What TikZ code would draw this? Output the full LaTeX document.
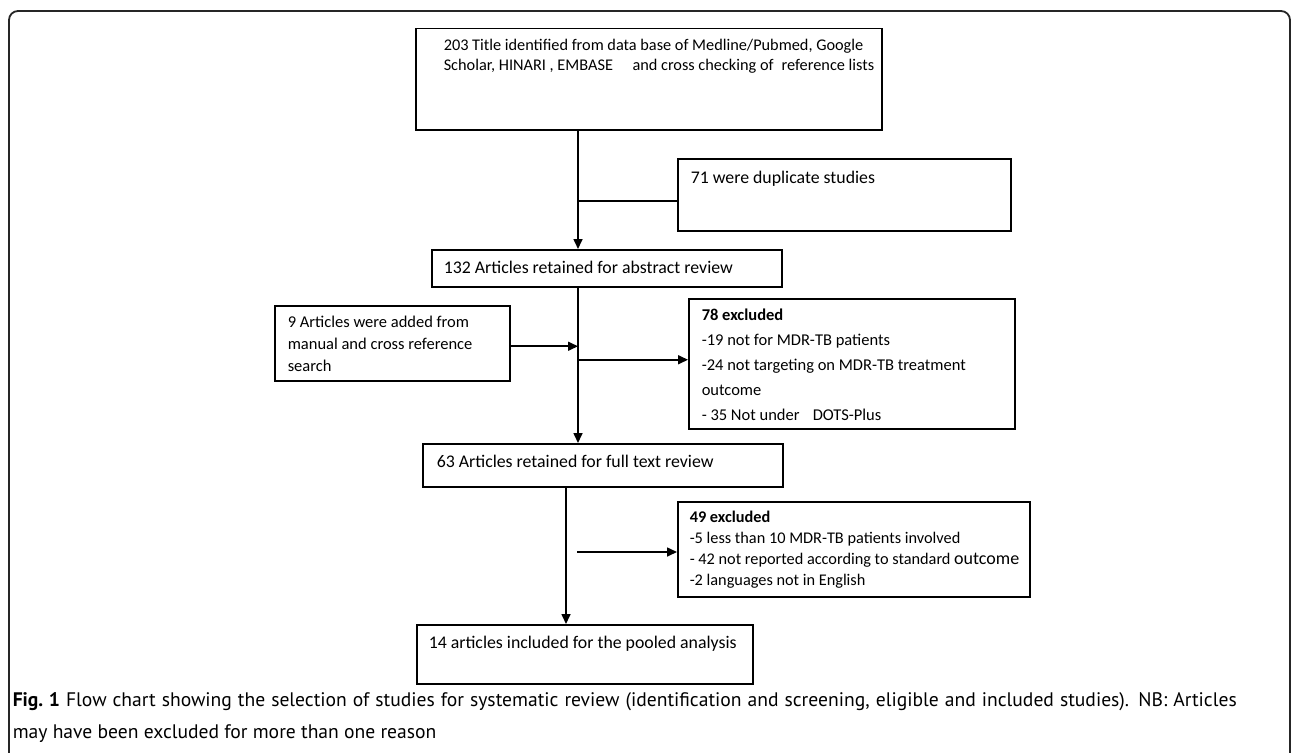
\documentclass[tikz,border=0pt]{standalone}
\usepackage{fontspec}
\setmainfont{Carlito}
\newfontfamily\capfont{PT Sans}
\usepackage{tikz}
\usetikzlibrary{positioning,arrows.meta}

\begin{document}
\begin{tikzpicture}[
  >={Triangle[length=10pt,width=9pt]},
  x=1pt,y=-1pt,
  line width=1.5pt,
  box/.style={draw, anchor=north west, inner sep=0pt},
  txt/.style={anchor=north west, inner sep=0pt, align=left,
    font=\fontsize{17.8}{22}\selectfont},
  side/.style={txt, font=\fontsize{16.3}{21}\selectfont},
  flow/.style={->, line width=1.6pt}
]
\useasboundingbox (0,0) rectangle (1292,752);

% outer frame
\draw[line width=1.8pt, black!85, rounded corners=9pt]
  (9,760) -- (9,11) -- (1290,11) -- (1290,760);

% main column
\node[box, minimum width=466pt, minimum height=101pt] (b1) at (415,28) {};
\node[box, minimum width=350pt, minimum height=37pt] (b2) at (431,249) {};
\node[box, minimum width=360pt, minimum height=43pt] (b3) at (422,443) {};
\node[box, minimum width=336pt, minimum height=59pt] (b4) at (416,624) {};

% side boxes
\node[box, minimum width=333pt, minimum height=72pt] (dup) at (677,158) {};
\node[box, minimum width=235pt, minimum height=75pt] (add) at (274,305) {};
\node[box, minimum width=326pt, minimum height=130pt] (ex1) at (688,298) {};
\node[box, minimum width=352pt, minimum height=95pt] (ex2) at (677,501) {};

% texts
\node[side, below right=10.5pt and 28pt of b1.north west, font=\fontsize{16.3}{20}\selectfont] (t1)
  {203 Title identified from data base of Medline/Pubmed, Google\\
   Scholar, HINARI , EMBASE\hspace{1.2em}and cross checking of\hspace{0.5em}reference lists};
\node[txt, below right=12pt and 13pt of dup.north west] (tdup) {71 were duplicate studies};
\node[txt, below right=11pt and 12pt of b2.north west] (t2) {132 Articles retained for abstract review};
\node[side, below right=10.5pt and 13pt of add.north west, font=\fontsize{16.5}{22}\selectfont] (tadd)
  {9 Articles were added from\\manual and cross reference\\search};
\node[side, below right=10.5pt and 13pt of ex1.north west, font=\fontsize{16.5}{25}\selectfont] (tex1)
  {\textbf{78 excluded}\\-19 not for MDR-TB patients\\-24 not targeting on MDR-TB treatment\\outcome\\- 35 Not under\hspace{0.8em}DOTS-Plus};
\node[txt, below right=11.7pt and 14pt of b3.north west] (t3) {63 Articles retained for full text review};
\node[side, below right=9.3pt and 12pt of ex2.north west] (tex2)
  {\textbf{49 excluded}\\-5 less than 10 MDR-TB patients involved\\- 42 not reported according to standard {\fontsize{18}{21}\selectfont outcome}\\-2 languages not in English};
\node[txt, below right=11.7pt and 12pt of b4.north west] (t4) {14 articles included for the pooled analysis};

% spines
\coordinate (spineA) at (578,0);
\coordinate (spineB) at (566,0);
\coordinate (gapB) at (577,552);

% connectors
\draw[flow] (spineA |- b1.south) -- (spineA |- b2.north);
\draw ([yshift=-6pt]spineA |- dup.west) -- ([yshift=-6pt]dup.west);
\draw[flow] (spineA |- b2.south) -- (spineA |- b3.north);
\draw[flow] ([yshift=-3pt]add.east) -- ([yshift=-3pt]spineA |- add.east);
\draw[flow] ([yshift=4pt]spineA |- ex1.west) -- ([yshift=4pt]ex1.west);
\draw[flow] (spineB |- b3.south) -- (spineB |- b4.north);
\draw[flow] (gapB) -- (gapB -| ex2.west);

% caption
\node[anchor=north west, inner sep=0pt, align=justify, text width=1224pt,
  font=\capfont\fontsize{19.6}{32}\selectfont] (cap) at (12,692)
  {\textbf{Fig.~1} Flow chart showing the selection of studies for systematic review (identification and screening, eligible and included studies). NB: Articles\linebreak
   may have been excluded for more than one reason};
\end{tikzpicture}
\end{document}
